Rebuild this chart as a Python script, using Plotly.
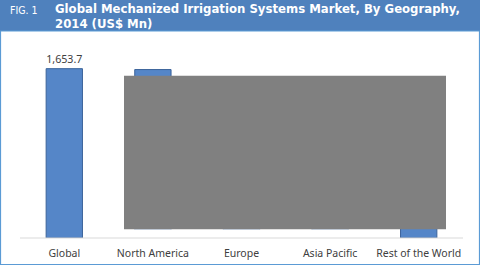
import plotly.graph_objects as go

categories = ["Global", "North America", "Europe", "Asia Pacific", "Rest of the World"]
values = [1653.7, 1645.0, 420.0, 380.0, 120.0]
labels = ["1,653.7", "", "", "", ""]

W, H = 480, 265
L, R, T, B = 20, 17, 50, 27
PW = W - L - R
PH = H - T - B
BOTTOM = H - B

def px(x):
    return (x - L) / PW

def py(y):
    return (BOTTOM - y) / PH

fig = go.Figure()
fig.add_trace(go.Bar(
    x=categories, y=values, text=labels, textposition="outside",
    textfont=dict(family="Noto Sans", size=11, color="#404040"),
    marker=dict(color="#5586c8", line=dict(color="#3b639a", width=1)),
    cliponaxis=False, hoverinfo="skip",
))

shapes = []
# header band
shapes.append(dict(type="rect", xref="paper", yref="paper",
                   x0=px(0), x1=px(480), y0=py(31), y1=py(0),
                   fillcolor="#4f81bd", line=dict(width=0), layer="above"))
# outer border
shapes.append(dict(type="rect", xref="paper", yref="paper",
                   x0=px(0.5), x1=px(479.5), y0=py(264.5), y1=py(31),
                   fillcolor="rgba(0,0,0,0)", line=dict(color="#5b9bd5", width=1.2), layer="above"))
# white mask at bottom of hidden bars
shapes.append(dict(type="rect", xref="paper", yref="paper",
                   x0=px(124), x1=px(396), y0=py(239), y1=py(229.3),
                   fillcolor="white", line=dict(width=0), layer="above"))
# gray obscuring box
shapes.append(dict(type="rect", xref="paper", yref="paper",
                   x0=px(124), x1=px(446), y0=py(229.3), y1=py(75.7),
                   fillcolor="#808080", line=dict(width=0), layer="above"))
# baseline redrawn over the mask
shapes.append(dict(type="line", xref="paper", yref="paper",
                   x0=0, x1=1, y0=0, y1=0,
                   line=dict(color="#d9d9d9", width=1), layer="above"))

title_font = dict(family="DejaVu Sans Condensed", size=13, color="white")
annotations = [
    dict(text="FIG. 1", xref="paper", yref="paper", x=px(8), y=py(10),
         xanchor="left", yanchor="middle", showarrow=False,
         font=dict(family="DejaVu Sans Condensed", size=10.5, color="white")),
    dict(text="<b>Global Mechanized Irrigation Systems Market, By Geography,</b>",
         xref="paper", yref="paper", x=px(54), y=py(8.3), xanchor="left", yanchor="middle",
         showarrow=False, font=title_font, borderpad=0),
    dict(text="<b>2014 (US$ Mn)</b>",
         xref="paper", yref="paper", x=px(54), y=py(23.7), xanchor="left", yanchor="middle",
         showarrow=False, font=title_font, borderpad=0),
]

fig.update_layout(
    width=W, height=H, margin=dict(l=L, r=R, t=T, b=B, autoexpand=False),
    paper_bgcolor="white", plot_bgcolor="white",
    showlegend=False, bargap=0.59,
    shapes=shapes, annotations=annotations,
    xaxis=dict(showline=False, ticks="", ticklabelstandoff=7, automargin=False,
               tickfont=dict(family="Noto Sans", size=10.5, color="#404040"),
               showgrid=False, fixedrange=True),
    yaxis=dict(range=[0, 1836], visible=False, showgrid=False, fixedrange=True,
               automargin=False),
)

fig.write_html("out.html")
